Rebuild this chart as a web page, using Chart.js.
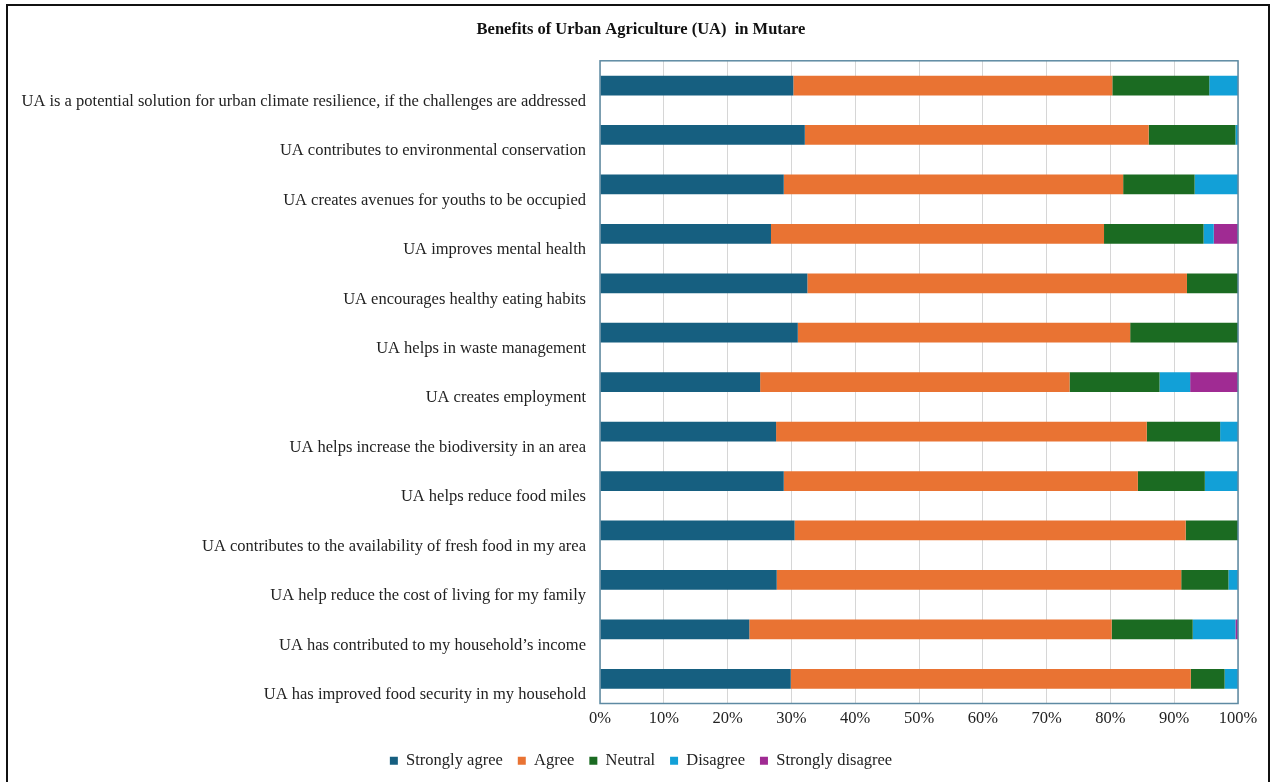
<!DOCTYPE html>
<html>
<head>
<meta charset="utf-8">
<script src="https://cdn.jsdelivr.net/npm/chart.js@4"></script>
<style>
  html, body { margin: 0; padding: 0; background: #fff; }
  #wrap { position: relative; width: 1279px; height: 782px; }
  #frame {
    position: absolute; left: 6px; top: 4px; width: 1264px; height: 800px;
    border: 2px solid #111; box-sizing: border-box; pointer-events: none;
  }
</style>
</head>
<body>
<div id="wrap">
  <canvas id="chart" width="1279" height="782"></canvas>
  <div id="frame"></div>
</div>
<script>
// Statements, top to bottom as shown
const statements = [
  'UA is a potential solution for urban climate resilience, if the challenges are addressed',
  'UA contributes to environmental conservation',
  'UA creates avenues for youths to be occupied',
  'UA improves mental health',
  'UA encourages healthy eating habits',
  'UA helps in waste management',
  'UA creates employment',
  'UA helps increase the biodiversity in an area',
  'UA helps reduce food miles',
  'UA contributes to the availability of fresh food in my area',
  'UA help reduce the cost of living for my family',
  'UA has contributed to my household\u2019s income',
  'UA has improved food security in my household'
];

// Percent of respondents per response
const stronglyAgree    = [30.3, 32.1, 28.8, 26.8, 32.5, 31.0, 25.1, 27.6, 28.8, 30.5, 27.7, 23.4, 29.9];
const agree            = [50.0, 53.9, 53.2, 52.2, 59.5, 52.1, 48.5, 58.1, 55.5, 61.3, 63.4, 56.8, 62.7];
const neutral          = [15.2, 13.6, 11.2, 15.6,  8.0, 16.9, 14.1, 11.5, 10.5,  8.2,  7.4, 12.7,  5.3];
const disagree         = [ 4.5,  0.4,  6.8,  1.6,  0.0,  0.0,  4.8,  2.8,  5.2,  0.0,  1.5,  6.7,  2.1];
const stronglyDisagree = [ 0.0,  0.0,  0.0,  3.8,  0.0,  0.0,  7.5,  0.0,  0.0,  0.0,  0.0,  0.4,  0.0];

const seriesNames  = ['Strongly agree', 'Agree', 'Neutral', 'Disagree', 'Strongly disagree'];
const seriesColors = ['#165f80', '#e97333', '#1b6b22', '#12a0d7', '#a02b93'];
const seriesData   = [stronglyAgree, agree, neutral, disagree, stronglyDisagree];

const xTicks = [0, 10, 20, 30, 40, 50, 60, 70, 80, 90, 100];

const serif = "'Liberation Serif', 'Times New Roman', serif";

// Box round the plot area; also let the long labels use the left padding
const plotBorder = {
  id: 'plotBorder',
  afterLayout(chart) {
    chart.scales.y.left = 0;
  },
  afterDraw(chart) {
    const a = chart.chartArea;
    const ctx = chart.ctx;
    ctx.save();
    ctx.strokeStyle = '#5e8aa3';
    ctx.lineWidth = 1.5;
    ctx.strokeRect(a.left, a.top, a.right - a.left, a.bottom - a.top);
    ctx.restore();
  }
};

const ctx = document.getElementById('chart').getContext('2d');
new Chart(ctx, {
  type: 'bar',
  data: {
    labels: statements,
    datasets: seriesNames.map((name, i) => ({
      label: name,
      data: seriesData[i],
      backgroundColor: seriesColors[i],
      borderWidth: 0,
      barPercentage: 0.4,
      categoryPercentage: 1
    }))
  },
  options: {
    indexAxis: 'y',
    responsive: false,
    animation: false,
    layout: { padding: { left: 44, right: 41, top: 0, bottom: 3 } },
    plugins: {
      title: {
        display: true,
        text: 'Benefits of Urban Agriculture (UA)  in Mutare',
        color: '#111',
        font: { family: serif, size: 16.5, weight: 'bold' },
        padding: { top: 20, bottom: 21 }
      },
      legend: {
        position: 'bottom',
        labels: {
          color: '#222',
          font: { family: serif, size: 16.5 },
          boxWidth: 8,
          boxHeight: 8,
          padding: 15
        }
      },
      tooltip: { enabled: false }
    },
    scales: {
      x: {
        stacked: true,
        min: 0,
        max: 100,
        afterBuildTicks: scale => { scale.ticks = xTicks.map(v => ({ value: v })); },
        ticks: {
          color: '#222',
          font: { family: serif, size: 16.5 },
          padding: 5,
          callback: v => v + '%'
        },
        grid: { color: '#d6d6d6', drawTicks: false },
        border: { display: false },
        afterFit: scale => { scale.height = 34; }
      },
      y: {
        stacked: true,
        ticks: {
          color: '#222',
          font: { family: serif, size: 16.5 },
          padding: 14,
          labelOffset: 16,
          autoSkip: false
        },
        grid: { display: false, drawTicks: false },
        border: { display: false },
        afterFit: scale => { scale.width = 556; }
      }
    }
  },
  plugins: [plotBorder]
});
</script>
</body>
</html>
